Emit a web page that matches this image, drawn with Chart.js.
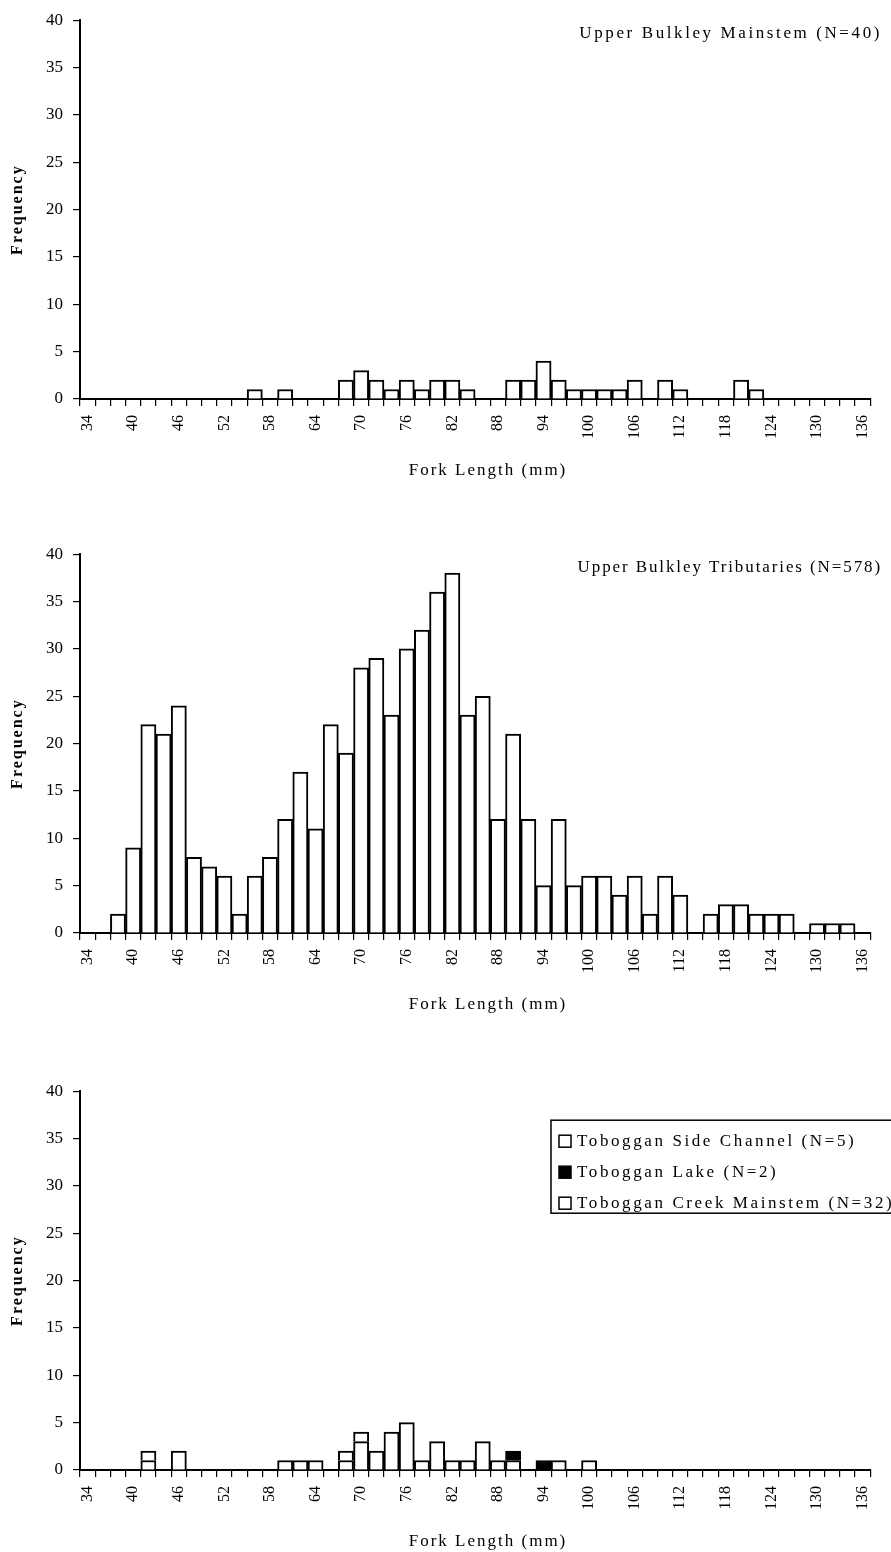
<!DOCTYPE html>
<html>
<head>
<meta charset="utf-8">
<script src="https://cdn.jsdelivr.net/npm/chart.js@4.4.1/dist/chart.umd.min.js"></script>
<style>
  body { margin: 0; background: #fff; width: 891px; height: 1552px; overflow: hidden; position: relative; }
  .panel { position: absolute; left: 0; width: 891px; height: 500px; }
</style>
</head>
<body>
<div class="panel" style="top:0px"><canvas id="c1" width="891" height="500"></canvas></div>
<div class="panel" style="top:534px"><canvas id="c2" width="891" height="500"></canvas></div>
<div class="panel" style="top:1071px"><canvas id="c3" width="891" height="500"></canvas></div>
<script>
// fork length classes (mm), 2 mm bins
const lengths = [34, 36, 38, 40, 42, 44, 46, 48, 50, 52,
                 54, 56, 58, 60, 62, 64, 66, 68, 70, 72,
                 74, 76, 78, 80, 82, 84, 86, 88, 90, 92,
                 94, 96, 98, 100, 102, 104, 106, 108, 110, 112,
                 114, 116, 118, 120, 122, 124, 126, 128, 130, 132,
                 134, 136];

const freqTicks = [0, 5, 10, 15, 20, 25, 30, 35, 40];

// Upper Bulkley Mainstem (N=40)
const bulkleyMain = [0, 0, 0, 0, 0, 0, 0, 0, 0, 0,
                     0, 1, 0, 1, 0, 0, 0, 2, 3, 2,
                     1, 2, 1, 2, 2, 1, 0, 0, 2, 2,
                     4, 2, 1, 1, 1, 1, 2, 0, 2, 1,
                     0, 0, 0, 2, 1, 0, 0, 0, 0, 0,
                     0, 0];

// Upper Bulkley Tributaries (N=578)
const bulkleyTribs = [0, 0, 2, 9, 22, 21, 24, 8, 7, 6,
                      2, 6, 8, 12, 17, 11, 22, 19, 28, 29,
                      23, 30, 32, 36, 38, 23, 25, 12, 21, 12,
                      5, 12, 5, 6, 6, 4, 6, 2, 6, 4,
                      0, 2, 3, 3, 2, 2, 2, 0, 1, 1,
                      1, 0];

// Toboggan Creek Mainstem (N=32)
const tobogganMain = [0, 0, 0, 0, 1, 0, 0, 0, 0, 0,
                      0, 0, 0, 1, 1, 1, 0, 1, 3, 2,
                      4, 5, 1, 3, 1, 1, 3, 1, 1, 0,
                      0, 1, 0, 1, 0, 0, 0, 0, 0, 0,
                      0, 0, 0, 0, 0, 0, 0, 0, 0, 0,
                      0, 0];

// Toboggan Lake (N=2)
const tobogganLake = [0, 0, 0, 0, 0, 0, 0, 0, 0, 0,
                      0, 0, 0, 0, 0, 0, 0, 0, 0, 0,
                      0, 0, 0, 0, 0, 0, 0, 0, 1, 0,
                      1, 0, 0, 0, 0, 0, 0, 0, 0, 0,
                      0, 0, 0, 0, 0, 0, 0, 0, 0, 0,
                      0, 0];

// Toboggan Side Channel (N=5)
const tobogganSide = [0, 0, 0, 0, 1, 0, 2, 0, 0, 0,
                      0, 0, 0, 0, 0, 0, 0, 1, 1, 0,
                      0, 0, 0, 0, 0, 0, 0, 0, 0, 0,
                      0, 0, 0, 0, 0, 0, 0, 0, 0, 0,
                      0, 0, 0, 0, 0, 0, 0, 0, 0, 0,
                      0, 0];

const FONT = '"Liberation Serif", "Times New Roman", serif';

// titles, note text and the boxed legend drawn on top of each panel
const panelText = {
  id: 'panelText',
  afterDraw(chart, args, opts) {
    const { ctx, chartArea: a } = chart;
    ctx.save();
    ctx.fillStyle = '#000';
    ctx.strokeStyle = '#000';

    ctx.font = '17px ' + FONT;
    ctx.letterSpacing = '2px';
    ctx.textAlign = 'center';
    ctx.textBaseline = 'middle';
    ctx.fillText('Fork Length (mm)', 488, a.bottom + 72);

    if (opts.note) {
      ctx.textAlign = 'right';
      ctx.letterSpacing = opts.noteSpacing;
      ctx.fillText(opts.note, 882, a.top + 13);
    }

    if (opts.legend) {
      const top = a.top + 29;
      ctx.lineWidth = 1.5;
      ctx.strokeRect(551, top, 400, 93);
      ctx.textAlign = 'left';
      ctx.letterSpacing = '2.6px';
      const sets = chart.data.datasets.slice().reverse();
      sets.forEach((ds, i) => {
        const y = top + 21 + i * 31;
        ctx.fillStyle = ds.backgroundColor;
        ctx.fillRect(559, y - 6, 12, 12);
        ctx.lineWidth = 1.5;
        ctx.strokeRect(559, y - 6, 12, 12);
        ctx.fillStyle = '#000';
        ctx.fillText(ds.label, 577, y);
      });
    }

    ctx.translate(18, (a.top + a.bottom) / 2);
    ctx.rotate(-Math.PI / 2);
    ctx.font = 'bold 16px ' + FONT;
    ctx.letterSpacing = '2px';
    ctx.textAlign = 'center';
    ctx.fillText('Frequency', 0, 0);
    ctx.restore();
  }
};

function barSet(label, data, fill) {
  return {
    label: label,
    data: data,
    backgroundColor: fill,
    borderColor: '#000',
    borderWidth: 2,
    barPercentage: 1.0,
    categoryPercentage: 1.0
  };
}

function makePanel(id, datasets, note, noteSpacing, legend) {
  return new Chart(document.getElementById(id), {
    type: 'bar',
    data: { labels: lengths, datasets: datasets },
    plugins: [panelText],
    options: {
      responsive: false,
      animation: false,
      devicePixelRatio: 1,
      layout: { padding: { left: 0, right: 14, top: 15, bottom: 19 } },
      plugins: {
        legend: { display: false },
        tooltip: { enabled: false },
        panelText: { note: note, noteSpacing: noteSpacing, legend: legend }
      },
      scales: {
        x: {
          stacked: true,
          offset: true,
          grid: { display: true, drawOnChartArea: false, drawTicks: true, tickLength: 7, color: '#000', lineWidth: 1.2, offset: true },
          border: { display: true, color: '#000', width: 2 },
          ticks: {
            autoSkip: false,
            minRotation: 90,
            maxRotation: 90,
            padding: 9,
            color: '#000',
            font: { family: FONT, size: 16 },
            callback: (v, i) => (i % 3 === 0 ? String(lengths[i]) : '')
          },
          afterFit: (s) => { s.height = 82; }
        },
        y: {
          stacked: true,
          min: 0,
          max: 40,
          afterBuildTicks: (s) => { s.ticks = freqTicks.map(v => ({ value: v })); },
          grid: { display: true, drawOnChartArea: false, drawTicks: true, tickLength: 7, color: '#000', lineWidth: 1.2 },
          border: { display: true, color: '#000', width: 2 },
          ticks: { padding: 10, color: '#000', font: { family: FONT, size: 17 } },
          afterFit: (s) => { s.width = 80; }
        }
      }
    }
  });
}

makePanel('c1', [barSet('Upper Bulkley Mainstem (N=40)', bulkleyMain, '#fff')],
  'Upper Bulkley Mainstem (N=40)', '2.6px', false);

makePanel('c2', [barSet('Upper Bulkley Tributaries (N=578)', bulkleyTribs, '#fff')],
  'Upper Bulkley Tributaries (N=578)', '1.9px', false);

makePanel('c3', [
  barSet('Toboggan Creek Mainstem (N=32)', tobogganMain, '#fff'),
  barSet('Toboggan Lake (N=2)', tobogganLake, '#000'),
  barSet('Toboggan Side Channel (N=5)', tobogganSide, '#fff')
], null, '0px', true);
</script>
</body>
</html>
